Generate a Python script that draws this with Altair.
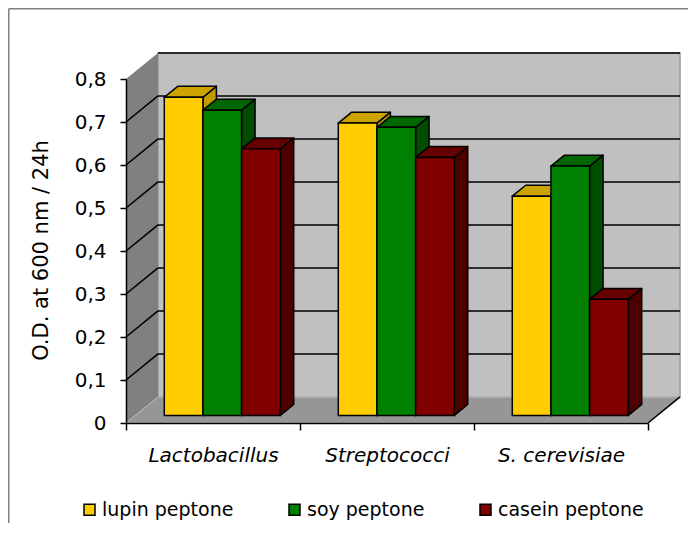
import altair as alt
import pandas as pd

# ---------------- data ----------------
categories = ["Lactobacillus", "Streptococci", "S. cerevisiae"]
series = ["lupin peptone", "soy peptone", "casein peptone"]
lupin = [0.74, 0.68, 0.51]
soy = [0.71, 0.67, 0.58]
casein = [0.62, 0.60, 0.27]
y_ticks = [0, 0.1, 0.2, 0.3, 0.4, 0.5, 0.6, 0.7, 0.8]

# ---------------- styles ----------------
front_colors = ["#FFCC00", "#008000", "#800000"]
top_colors = ["#CCA300", "#006600", "#660000"]
side_colors = ["#C29B00", "#004D00", "#4D0000"]
FONT = "DejaVu Sans"

# 3-D geometry, expressed in axis units
DX = 0.184     # horizontal shift of the full depth (category units)
DY = 0.0605    # vertical shift of the full depth (value units)
F0, F1 = 0.29, 0.71   # front / back depth of the bars
GAP = 1.5      # gap width relative to one bar

# canvas layout (pixels)
PAD_L, PAD_T, PAD_R, PAD_B = 118, 71, 40, 100
W, H = 522, 344

n_cat = len(categories)
y_max = max(y_ticks)
bw = 1 / (len(series) + GAP)
off = GAP * bw / 2
vals = [lupin, soy, casein]

fronts, tops, sides = [], [], []
for i, cat in enumerate(categories):
    for j, s in enumerate(series):
        v = vals[j][i]
        bid = f"{i}-{j}"
        x0 = i + off + j * bw
        x1 = x0 + bw
        a, b = v + F0 * DY, v + F1 * DY
        fronts.append(dict(series=s, x0=x0 + F0 * DX, x1=x1 + F0 * DX, y0=F0 * DY, y1=a))
        for xx, lo, hi in [(x0 + F0 * DX, a, a), (x0 + F1 * DX, a, b),
                           (x1 + F0 * DX, a, b), (x1 + F1 * DX, b, b)]:
            tops.append(dict(id=bid, x=xx, lo=lo, hi=hi, c=top_colors[j]))
        for xx, lo, hi in [(x1 + F0 * DX, F0 * DY, a), (x1 + F1 * DX, F1 * DY, b)]:
            sides.append(dict(id=bid, x=xx, lo=lo, hi=hi, c=side_colors[j]))

df_front = pd.DataFrame(fronts)
df_top = pd.DataFrame(tops)
df_side = pd.DataFrame(sides)

df_back = pd.DataFrame([dict(x0=DX, x1=n_cat + DX, y0=DY, y1=y_max + DY)])
df_sidewall = pd.DataFrame([dict(x=0, lo=0, hi=y_max), dict(x=DX, lo=DY, hi=y_max + DY)])
df_floor = pd.DataFrame([dict(x=0, lo=0, hi=0), dict(x=DX, lo=0, hi=DY),
                         dict(x=n_cat, lo=0, hi=DY), dict(x=n_cat + DX, lo=DY, hi=DY)])
grid_vals = [t for t in y_ticks if t > 0]
df_grid_back = pd.DataFrame([dict(x0=DX, x1=n_cat + DX, y0=t + DY) for t in grid_vals])
df_grid_side = pd.DataFrame([dict(x0=0, x1=DX, y0=t, y1=t + DY) for t in grid_vals if t < y_max])
df_floor_edge = pd.DataFrame([dict(x0=n_cat, x1=n_cat + DX, y0=0, y1=DY)])

# ---------------- scales & axes ----------------
xs = alt.Scale(domain=[0, n_cat], nice=False, zero=False)
ys = alt.Scale(domain=[0, y_max], nice=False, zero=False)

cat_js = "[" + ",".join("'" + c + "'" for c in categories) + "]"
x_vals = sorted([k * 0.5 for k in range(2 * n_cat + 1)])
x_axis = alt.Axis(
    values=x_vals,
    labelExpr=f"datum.value % 1 === 0 ? '' : {cat_js}[floor(datum.value)]",
    tickOpacity={"condition": {"test": "datum.value % 1 === 0", "value": 1}, "value": 0},
    grid=False, title=None, labelAngle=0, labelOverlap=False, labelFlush=False,
    domainColor="black", domainWidth=1.5, tickColor="black", tickWidth=1.5, tickSize=7,
    labelPadding=15, labelFont=FONT, labelFontSize=20, labelFontStyle="italic",
    labelColor="black", zindex=1,
)
y_axis = alt.Axis(
    values=y_ticks,
    labelExpr="datum.value == 0 ? '0' : replace(format(datum.value, '.1f'), '.', ',')",
    grid=False, domainColor="black", domainWidth=1.5, tickColor="black", tickWidth=1.5,
    tickSize=6, labelPadding=14, labelFont=FONT, labelFontSize=20, labelColor="black",
    labelOverlap=False,
    title="O.D. at 600 nm / 24h", titleFont=FONT, titleFontSize=21, titleFontWeight="normal",
    titleColor="black", titleX=-85, titleY=171, titleAngle=270, titleAlign="center",
    titleBaseline="middle", zindex=1,
)


def X(f):
    return alt.X(f, scale=xs, axis=x_axis)


def Y(f):
    return alt.Y(f, scale=ys, axis=y_axis, stack=None)


back = alt.Chart(df_back).mark_rect(fill="#C0C0C0", stroke="#9A9A9A", strokeWidth=1.5).encode(
    x=X("x0:Q"), x2="x1:Q", y=Y("y0:Q"), y2="y1:Q")
sidewall = alt.Chart(df_sidewall).mark_area(fill="#808080").encode(
    x=X("x:Q"), y=Y("lo:Q"), y2="hi:Q")
floor = alt.Chart(df_floor).mark_area(fill="#969696", stroke="#BDBDBD", strokeWidth=1).encode(
    x=X("x:Q"), y=Y("lo:Q"), y2="hi:Q")
grid_back = alt.Chart(df_grid_back).mark_rule(color="black", strokeWidth=1.6).encode(
    x=X("x0:Q"), x2="x1:Q", y=Y("y0:Q"))
grid_side = alt.Chart(df_grid_side).mark_rule(color="black", strokeWidth=1.6).encode(
    x=X("x0:Q"), x2="x1:Q", y=Y("y0:Q"), y2="y1:Q")
floor_edge = alt.Chart(df_floor_edge).mark_rule(color="black", strokeWidth=1.6).encode(
    x=X("x0:Q"), x2="x1:Q", y=Y("y0:Q"), y2="y1:Q")

side_faces = alt.Chart(df_side).mark_area(stroke="black", strokeWidth=1.5, strokeJoin="round").encode(
    x=X("x:Q"), y=Y("lo:Q"), y2="hi:Q", fill=alt.Fill("c:N", scale=None), detail="id:N")
top_faces = alt.Chart(df_top).mark_area(stroke="black", strokeWidth=1.5, strokeJoin="round").encode(
    x=X("x:Q"), y=Y("lo:Q"), y2="hi:Q", fill=alt.Fill("c:N", scale=None), detail="id:N")
front_faces = alt.Chart(df_front).mark_rect(stroke="black", strokeWidth=1.5).encode(
    x=X("x0:Q"), x2="x1:Q", y=Y("y0:Q"), y2="y1:Q",
    color=alt.Color(
        "series:N",
        scale=alt.Scale(domain=series, range=front_colors),
        legend=alt.Legend(
            orient="none", legendX=-46, legendY=421, direction="horizontal", title=None,
            symbolType="square", symbolSize=121, symbolStrokeColor="black",
            symbolStrokeWidth=1.5, symbolOpacity=1, labelFont=FONT, labelFontSize=19,
            labelColor="black", columnPadding=51, labelOffset=3, padding=0,
        ),
    ),
)

# chart-area border: only the top and left edges fall inside the picture
one = pd.DataFrame({"k": [0]})
frame_top = alt.Chart(one).mark_rule(color="#808080", strokeWidth=1.5).encode(
    x=alt.value(-PAD_L + 0.75), x2=alt.value(W + PAD_R), y=alt.value(-PAD_T + 0.75))
frame_left = alt.Chart(one).mark_rule(color="#808080", strokeWidth=1.5).encode(
    x=alt.value(-PAD_L + 0.75), y=alt.value(-PAD_T + 0.75), y2=alt.value(H + PAD_B))

chart = alt.layer(
    back, sidewall, floor, grid_back, grid_side, floor_edge,
    side_faces, top_faces, front_faces, frame_top, frame_left,
).properties(
    width=W, height=H,
    padding={"left": PAD_L, "top": PAD_T, "right": PAD_R, "bottom": PAD_B},
    autosize=alt.AutoSizeParams(type="none"),
).configure_view(stroke=None)

chart.save("out.html", embed_options={"renderer": "svg", "actions": False})
